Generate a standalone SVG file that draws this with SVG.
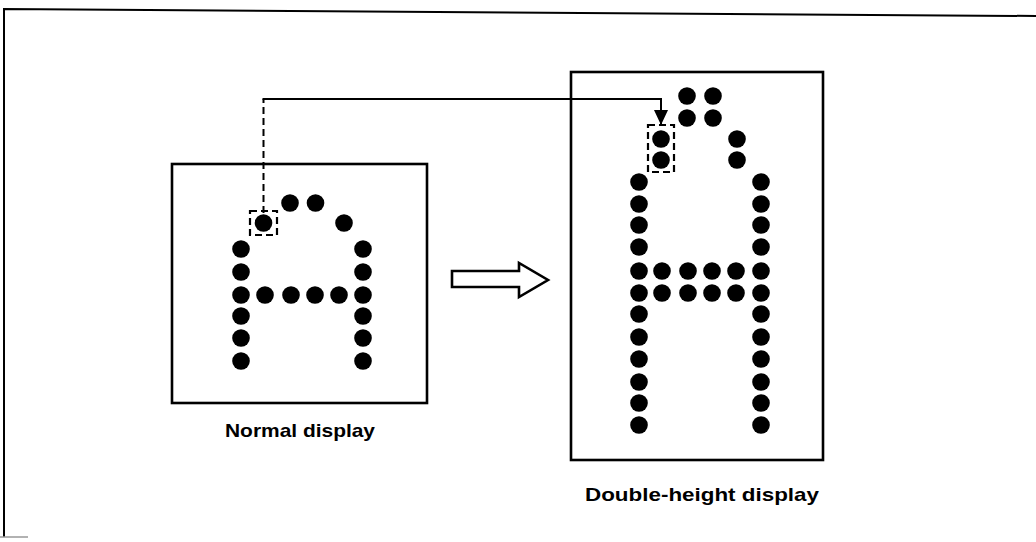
<svg xmlns="http://www.w3.org/2000/svg" width="1036" height="542" viewBox="0 0 1036 542">
  <defs>
    <style>
      .frame { fill: none; stroke: #000; stroke-width: 2; }
      .box { fill: none; stroke: #000; stroke-width: 2.6; }
      .dot { fill: #000; }
      .sel { fill: none; stroke: #000; stroke-width: 2.2; stroke-dasharray: 7 4; }
      .conn { fill: none; stroke: #000; stroke-width: 2; }
      .dash { stroke-dasharray: 7 4; }
      .label { font-family: "Liberation Sans", Arial, sans-serif; font-size: 19px; font-weight: bold; fill: #000; }
    </style>
    <marker id="arrow" markerWidth="16" markerHeight="14" refX="15" refY="7" orient="auto" markerUnits="userSpaceOnUse">
      <path d="M0,0 L15,7 L0,14 Z" fill="#000"/>
    </marker>
  </defs>

  <rect width="1036" height="542" fill="#fff"/>

  <g id="frame">
    <path class="frame" d="M1036,16 L4,9 L4,537"/>
    <path d="M0,537 L28,537" stroke="#999" stroke-width="1.5"/>
  </g>

  <g id="normal-display">
    <rect class="box" x="172" y="164" width="255" height="239"/>
    <g class="dots">
      <circle class="dot" cx="290" cy="203" r="8.8"/>
      <circle class="dot" cx="315.5" cy="203" r="8.8"/>
      <circle class="dot" cx="263.5" cy="223" r="8.8"/>
      <circle class="dot" cx="344" cy="223" r="8.8"/>
      <circle class="dot" cx="241" cy="249" r="8.8"/>
      <circle class="dot" cx="241" cy="272" r="8.8"/>
      <circle class="dot" cx="241" cy="295" r="8.8"/>
      <circle class="dot" cx="241" cy="316" r="8.8"/>
      <circle class="dot" cx="241" cy="338" r="8.8"/>
      <circle class="dot" cx="241" cy="361" r="8.8"/>
      <circle class="dot" cx="363" cy="249" r="8.8"/>
      <circle class="dot" cx="363" cy="272" r="8.8"/>
      <circle class="dot" cx="363" cy="295" r="8.8"/>
      <circle class="dot" cx="363" cy="316" r="8.8"/>
      <circle class="dot" cx="363" cy="338" r="8.8"/>
      <circle class="dot" cx="363" cy="361" r="8.8"/>
      <circle class="dot" cx="265" cy="295" r="8.8"/>
      <circle class="dot" cx="291" cy="295" r="8.8"/>
      <circle class="dot" cx="315" cy="295" r="8.8"/>
      <circle class="dot" cx="339" cy="295" r="8.8"/>
    </g>
    <rect class="sel" x="250" y="211" width="27" height="24"/>
    <text class="label" x="300" y="437" text-anchor="middle" textLength="150" lengthAdjust="spacingAndGlyphs">Normal display</text>
  </g>

  <g id="transform-arrow">
    <path d="M452,271 L519,271 L519,263 L548,280 L519,297 L519,287 L452,287 Z" fill="#fff" stroke="#000" stroke-width="2.6" stroke-linejoin="miter"/>
  </g>

  <g id="double-height-display">
    <rect class="box" x="571" y="72" width="252" height="388"/>
    <g class="dots">
      <circle class="dot" cx="687" cy="96" r="8.8"/>
      <circle class="dot" cx="713" cy="96" r="8.8"/>
      <circle class="dot" cx="687" cy="118" r="8.8"/>
      <circle class="dot" cx="713" cy="118" r="8.8"/>
      <circle class="dot" cx="661" cy="139" r="8.8"/>
      <circle class="dot" cx="661" cy="160" r="8.8"/>
      <circle class="dot" cx="737" cy="139" r="8.8"/>
      <circle class="dot" cx="737" cy="160" r="8.8"/>
      <circle class="dot" cx="639" cy="182" r="8.8"/>
      <circle class="dot" cx="639" cy="204" r="8.8"/>
      <circle class="dot" cx="639" cy="225" r="8.8"/>
      <circle class="dot" cx="639" cy="247" r="8.8"/>
      <circle class="dot" cx="639" cy="271" r="8.8"/>
      <circle class="dot" cx="639" cy="293" r="8.8"/>
      <circle class="dot" cx="639" cy="314" r="8.8"/>
      <circle class="dot" cx="639" cy="337" r="8.8"/>
      <circle class="dot" cx="639" cy="359" r="8.8"/>
      <circle class="dot" cx="639" cy="382" r="8.8"/>
      <circle class="dot" cx="639" cy="403" r="8.8"/>
      <circle class="dot" cx="639" cy="425" r="8.8"/>
      <circle class="dot" cx="761" cy="182" r="8.8"/>
      <circle class="dot" cx="761" cy="204" r="8.8"/>
      <circle class="dot" cx="761" cy="225" r="8.8"/>
      <circle class="dot" cx="761" cy="247" r="8.8"/>
      <circle class="dot" cx="761" cy="271" r="8.8"/>
      <circle class="dot" cx="761" cy="293" r="8.8"/>
      <circle class="dot" cx="761" cy="314" r="8.8"/>
      <circle class="dot" cx="761" cy="337" r="8.8"/>
      <circle class="dot" cx="761" cy="359" r="8.8"/>
      <circle class="dot" cx="761" cy="382" r="8.8"/>
      <circle class="dot" cx="761" cy="403" r="8.8"/>
      <circle class="dot" cx="761" cy="425" r="8.8"/>
      <circle class="dot" cx="662" cy="271" r="8.8"/>
      <circle class="dot" cx="688" cy="271" r="8.8"/>
      <circle class="dot" cx="712" cy="271" r="8.8"/>
      <circle class="dot" cx="736" cy="271" r="8.8"/>
      <circle class="dot" cx="662" cy="293" r="8.8"/>
      <circle class="dot" cx="688" cy="293" r="8.8"/>
      <circle class="dot" cx="712" cy="293" r="8.8"/>
      <circle class="dot" cx="736" cy="293" r="8.8"/>
    </g>
    <rect class="sel" x="648" y="125" width="26" height="47"/>
    <text class="label" x="702" y="501" text-anchor="middle" textLength="234" lengthAdjust="spacingAndGlyphs">Double-height display</text>
  </g>

  <g id="connectors">
    <path class="conn dash" d="M263.5,213 L263.5,99"/>
    <path class="conn" d="M262.5,99 L661,99 L661,125" marker-end="url(#arrow)"/>
  </g>
</svg>
